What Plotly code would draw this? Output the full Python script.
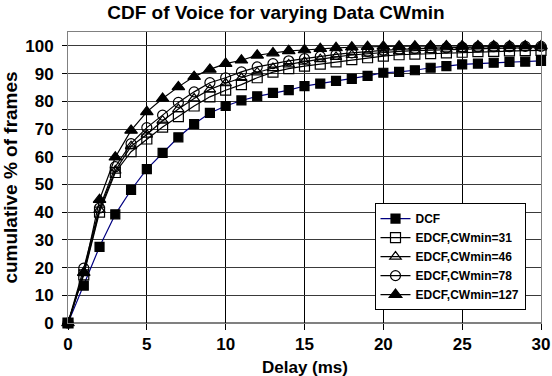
import plotly.graph_objects as go

delay_ms = list(range(0, 31))

dcf = [0, 13.5, 27.5, 39.2, 48, 55.5, 61.4, 67, 71.8, 75.8, 78.3, 80.3, 81.8, 83, 84,
       85.5, 86.4, 87.4, 88.1, 89.2, 90.3, 90.6, 91.2, 92.1, 92.7, 93.3, 93.6, 93.9,
       94.2, 94.3, 94.6]
edcf_31 = [0, 17.4, 40, 54.3, 61.8, 66.4, 70.7, 74.5, 78.3, 81.6, 84, 86, 88.5, 90.5,
           91.8, 92.7, 93.4, 94.2, 95, 95.7, 96.3, 96.8, 97, 97.2, 97.5, 97.7, 97.9,
           98, 98.2, 98.3, 98.4]
edcf_46 = [0, 18, 40.8, 55, 63.8, 68, 73, 77.2, 81, 84.3, 86.5, 88.4, 90.4, 92, 93.3,
           94.3, 95.2, 96, 96.7, 97.2, 97.6, 98, 98.3, 98.5, 98.7, 98.9, 99, 99.1,
           99.2, 99.3, 99.4]
edcf_78 = [0, 19.8, 41.5, 56.4, 64.7, 70.5, 75, 79.6, 83.4, 86.7, 88.5, 90.6, 92.4,
           93.6, 94.6, 95.4, 96.2, 96.9, 97.5, 98, 98.4, 98.7, 99, 99.2, 99.3, 99.5,
           99.6, 99.7, 99.7, 99.8, 99.8]
edcf_127 = [0, 18.2, 44.5, 59.8, 69.5, 76.2, 81, 85.2, 88.9, 91.5, 93.6, 94.8, 96.6,
            97.4, 98.2, 98.5, 99, 99.3, 99.5, 99.7, 99.8, 99.9, 99.9, 100, 100, 100,
            100, 100, 100, 100, 100]

series_names = ["DCF", "EDCF,CWmin=31", "EDCF,CWmin=46", "EDCF,CWmin=78", "EDCF,CWmin=127"]
x_ticks = [0, 5, 10, 15, 20, 25, 30]
y_ticks = list(range(0, 101, 10))

styles = [
    dict(line_color="#000080", symbol="square", size=9),
    dict(line_color="black", symbol="square-open", size=10),
    dict(line_color="black", symbol="triangle-up-open", size=10),
    dict(line_color="black", symbol="circle-open", size=10),
    dict(line_color="black", symbol="triangle-up", size=11),
]

fig = go.Figure()
for name, vals, st in zip(series_names, [dcf, edcf_31, edcf_46, edcf_78, edcf_127], styles):
    fig.add_trace(go.Scatter(
        x=delay_ms, y=vals, name=f"<b>{name}</b>", mode="lines+markers",
        line=dict(color=st["line_color"], width=1.2),
        marker=dict(symbol=st["symbol"], size=st["size"], color="black",
                    line=dict(color="black", width=1.2)),
        cliponaxis=False,
    ))

font_family = "Liberation Sans, Arial, sans-serif"
fig.update_layout(
    width=552, height=376,
    margin=dict(l=68, r=11, t=32, b=53, autoexpand=False),
    paper_bgcolor="white", plot_bgcolor="white",
    font=dict(family=font_family, color="black"),
    title=dict(text="<b>CDF of Voice for varying Data CWmin</b>",
               x=0.5, xref="container", xanchor="center",
               y=0.968, yref="container", yanchor="middle",
               font=dict(size=19, family=font_family, color="black")),
    xaxis=dict(range=[0, 30], tickvals=x_ticks, ticktext=[f"<b>{v}</b>" for v in x_ticks],
               showgrid=True, gridcolor="black", gridwidth=1,
               showline=True, linecolor="#808080", linewidth=1, mirror=True,
               ticks="outside", ticklen=6, tickcolor="black",
               tickfont=dict(size=17, family=font_family),
               zeroline=False, automargin=False),
    yaxis=dict(range=[0, 105], tickvals=y_ticks, ticktext=[f"<b>{v}</b>" for v in y_ticks],
               showgrid=True, gridcolor="#3a3a3a", gridwidth=1,
               showline=True, linecolor="#808080", linewidth=1, mirror=True,
               ticks="outside", ticklen=5, tickcolor="black",
               tickfont=dict(size=17, family=font_family),
               ticklabelstandoff=5,
               zeroline=False, automargin=False,
               title=dict(text="<b>cumulative % of frames</b>",
                          font=dict(size=19, family=font_family), standoff=4)),
    legend=dict(x=0.648, y=0.412, xanchor="left", yanchor="top",
                bgcolor="white", bordercolor="black", borderwidth=1,
                font=dict(size=12, family=font_family), itemwidth=30,
                tracegroupgap=0),
    showlegend=True,
)
fig.add_annotation(text="<b>Delay (ms)</b>", xref="paper", yref="paper",
                   x=0.5, y=-0.152, xanchor="center", yanchor="middle",
                   showarrow=False, borderpad=0,
                   font=dict(size=17, family=font_family, color="black"))
fig.add_shape(type="line", xref="x", yref="y", x0=0, x1=30, y0=0, y1=0,
              line=dict(color="black", width=1))

fig.write_html("out.html")
